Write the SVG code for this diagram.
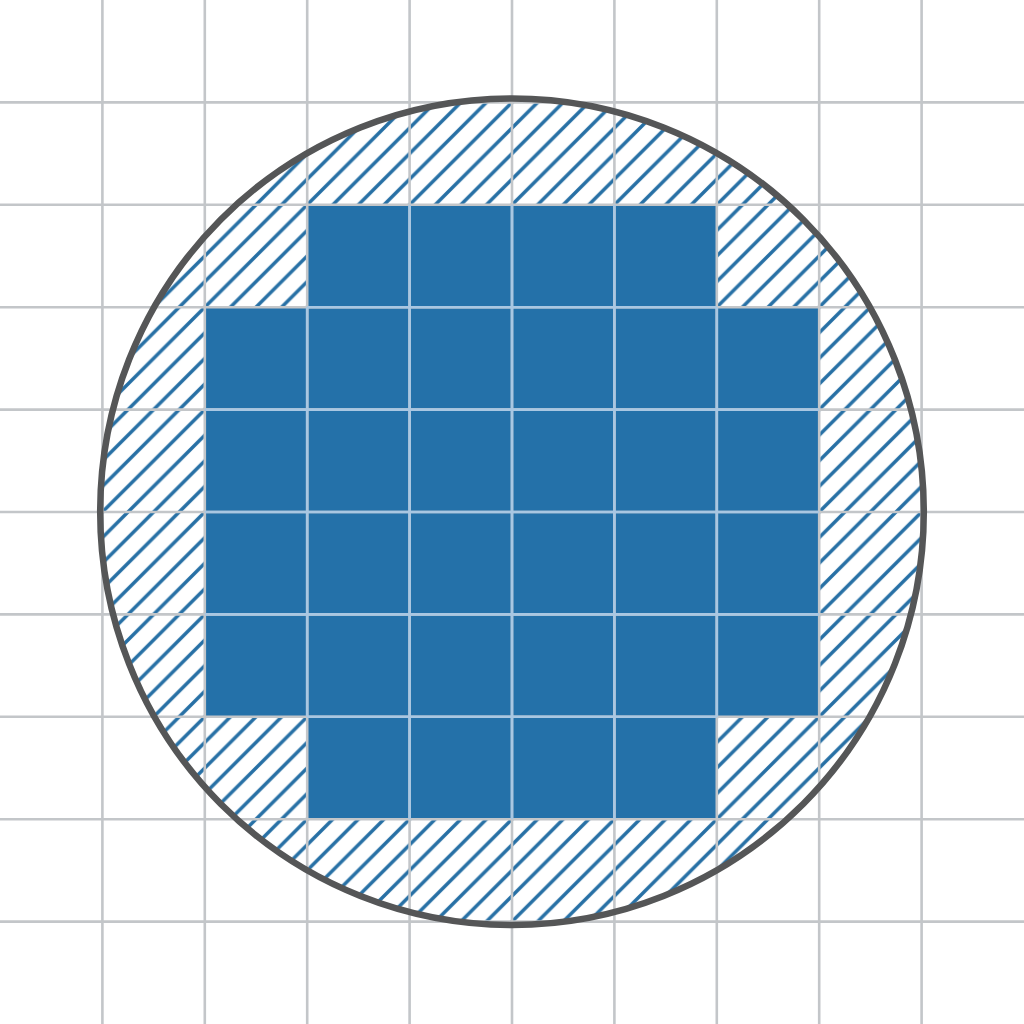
<svg xmlns="http://www.w3.org/2000/svg" width="1024" height="1024" viewBox="0 0 1024 1024">
  <defs>
    <pattern id="hatch" patternUnits="userSpaceOnUse" width="25.6" height="25.6">
      <path d="M-6.4,6.4 L6.4,-6.4 M0,25.6 L25.6,0 M19.2,32 L32,19.2" stroke="#2770a5" stroke-width="3.5" fill="none"/>
    </pattern>
  </defs>
  <style>
    .grid { stroke: #c3c6c9; stroke-width: 2.6; fill: none; }
    .inner { stroke: #a9c7e2; stroke-width: 2.6; fill: none; }
    .blue { fill: #2471a9; }
    .rim { fill: none; stroke: #555657; stroke-width: 6.5; }
  </style>
  <rect width="1024" height="1024" fill="#ffffff"/>
  <g id="hatched-zone">
    <ellipse cx="512" cy="511.7" rx="411.8" ry="413.3" fill="url(#hatch)"/>
  </g>
  <g id="blue-cells">
    <path class="blue" d="M307.2,204.8 H716.8 V307.2 H819.2 V716.8 H716.8 V819.2 H307.2 V716.8 H204.8 V307.2 H307.2 Z"/>
  </g>
  <g id="grid">
    <path class="grid" d="M102.4,0 V1024 M204.8,0 V1024 M307.2,0 V1024 M409.6,0 V1024 M512,0 V1024 M614.4,0 V1024 M716.8,0 V1024 M819.2,0 V1024 M921.6,0 V1024 M0,102.4 H1024 M0,204.8 H1024 M0,307.2 H1024 M0,409.6 H1024 M0,512 H1024 M0,614.4 H1024 M0,716.8 H1024 M0,819.2 H1024 M0,921.6 H1024"/>
    <path class="inner" d="M307.2,307.2 V716.8 M716.8,307.2 V716.8 M409.6,204.8 V819.2 M512,204.8 V819.2 M614.4,204.8 V819.2 M307.2,307.2 H716.8 M307.2,716.8 H716.8 M204.8,409.6 H819.2 M204.8,512 H819.2 M204.8,614.4 H819.2"/>
  </g>
  <g id="wafer-outline">
    <ellipse class="rim" cx="512" cy="511.7" rx="411.8" ry="413.3"/>
  </g>
</svg>
